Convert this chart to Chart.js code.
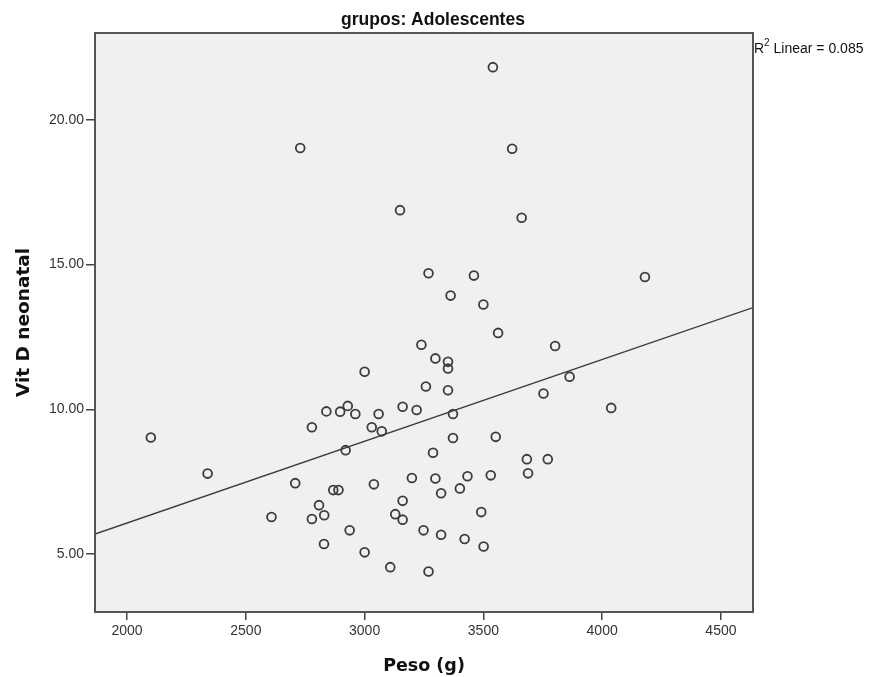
<!DOCTYPE html>
<html>
<head>
<meta charset="utf-8">
<script src="https://cdn.jsdelivr.net/npm/chart.js@4"></script>
<style>
  html, body { margin: 0; padding: 0; background: #fff; }
  #wrap { width: 880px; height: 677px; }
</style>
</head>
<body>
<div id="wrap"><canvas id="scatter" width="880" height="677"></canvas></div>
<script>
// ---------- Data ----------
const pesoG = [
    2729, 3149, 3269, 3540, 3621, 3661, 3460, 3362, 3500, 3562,
    4180, 3802, 3351, 3351, 3863, 3351, 3753, 3372, 4038, 3372,
    3552, 3683, 3771, 3688, 3433, 3531, 3401, 3322, 3491, 3322,
    3421, 3501, 3000, 3239, 3298, 3258, 2100, 2339, 2778, 2839,
    2897, 2929, 2961, 3059, 3160, 3219, 3030, 3072, 2920, 3288,
    2708, 2868, 2890, 3039, 3199, 3298, 3160, 2808, 2830, 2778,
    2608, 3129, 3160, 2937, 3248, 2829, 3000, 3108, 3269
];
const vitD = [
    19.03, 16.88, 14.70, 21.82, 19.00, 16.62, 14.62, 13.93, 13.62, 12.64,
    14.57, 12.19, 11.64, 11.41, 11.13, 10.66, 10.55, 9.84, 10.05, 9.01,
    9.05, 8.28, 8.28, 7.79, 7.69, 7.72, 7.27, 7.10, 6.45, 5.67,
    5.52, 5.26, 11.30, 12.23, 11.76, 10.79, 9.03, 7.78, 9.38, 9.93,
    9.92, 10.12, 9.84, 9.84, 10.09, 9.98, 9.38, 9.24, 8.59, 8.50,
    7.45, 7.21, 7.21, 7.41, 7.63, 7.61, 6.84, 6.69, 6.34, 6.21,
    6.28, 6.38, 6.19, 5.82, 5.82, 5.35, 5.06, 4.55, 4.40
];
const xTicks = [2000, 2500, 3000, 3500, 4000, 4500];
const yTicks = [5, 10, 15, 20];
const xRange = [1865, 4635];
const yRange = [3, 23];
const titleText = 'grupos: Adolescentes';
const r2Text = '0.085';

// ---------- Ajuste lineal (mínimos cuadrados) ----------
const n = pesoG.length;
const mx = pesoG.reduce((a, b) => a + b, 0) / n;
const my = vitD.reduce((a, b) => a + b, 0) / n;
let sxy = 0, sxx = 0;
for (let i = 0; i < n; i++) {
    sxy += (pesoG[i] - mx) * (vitD[i] - my);
    sxx += (pesoG[i] - mx) ** 2;
}
const slope = sxy / sxx;
const intercept = my - slope * mx;
const fitLine = xRange.map(x => ({ x, y: intercept + slope * x }));

// fondo gris del área, marco y textos extra
const framePlugin = {
    id: 'frame',
    beforeDraw(chart) {
        const { ctx, chartArea: a } = chart;
        ctx.save();
        ctx.fillStyle = '#f0f0f0';
        ctx.fillRect(a.left, a.top, a.right - a.left, a.bottom - a.top);
        ctx.restore();
    },
    afterDraw(chart) {
        const { ctx, chartArea: a } = chart;
        ctx.save();
        ctx.strokeStyle = '#555';
        ctx.lineWidth = 2;
        ctx.strokeRect(a.left, a.top, a.right - a.left, a.bottom - a.top);

        ctx.fillStyle = '#111';
        ctx.font = 'bold 17.5px "Liberation Sans", Arial, sans-serif';
        ctx.textAlign = 'center';
        ctx.textBaseline = 'middle';
        ctx.fillText(titleText, 433, 20);

        // R² Linear = 0.085
        ctx.textAlign = 'left';
        ctx.font = '14px "Liberation Sans", Arial, sans-serif';
        let x = a.right + 1;
        ctx.fillText('R', x, 49);
        x += ctx.measureText('R').width;
        ctx.font = '10px "Liberation Sans", Arial, sans-serif';
        ctx.fillText('2', x, 43);
        x += ctx.measureText('2').width;
        ctx.font = '14px "Liberation Sans", Arial, sans-serif';
        ctx.fillText(' Linear = ' + r2Text, x, 49);
        ctx.restore();
    }
};

const tickFont = { family: '"Liberation Sans", Arial, sans-serif', size: 14 };
const axisTitleFont = { family: '"DejaVu Sans", Verdana, sans-serif', weight: 'bold' };

new Chart(document.getElementById('scatter').getContext('2d'), {
    type: 'scatter',
    data: {
        datasets: [
            {
                label: 'Vit D neonatal',
                data: pesoG.map((x, i) => ({ x, y: vitD[i] })),
                pointStyle: 'circle',
                pointRadius: 4.4,
                borderWidth: 1.8,
                borderColor: '#3c3c3c',
                backgroundColor: 'rgba(0,0,0,0)',
            },
            {
                type: 'line',
                label: 'Linear',
                data: fitLine,
                borderColor: '#3a3a3a',
                borderWidth: 1.4,
                pointRadius: 0,
                fill: false,
            },
        ],
    },
    options: {
        responsive: false,
        animation: false,
        layout: { padding: { top: 33, right: 127, left: 0, bottom: 0 } },
        plugins: {
            legend: { display: false },
            tooltip: { enabled: false },
        },
        scales: {
            x: {
                type: 'linear',
                min: xRange[0],
                max: xRange[1],
                afterBuildTicks: s => { s.ticks = xTicks.map(v => ({ value: v })); },
                afterFit: s => { s.height = 65; },
                grid: { drawOnChartArea: false, drawTicks: true, tickLength: 8, color: '#444', lineWidth: 1.5 },
                border: { display: false },
                ticks: { font: tickFont, color: '#333', padding: 3, maxRotation: 0, callback: v => String(v) },
                title: { display: true, text: 'Peso (g)', color: '#111', font: { ...axisTitleFont, size: 17.5 }, padding: { bottom: 0 } },
            },
            y: {
                type: 'linear',
                min: yRange[0],
                max: yRange[1],
                afterBuildTicks: s => { s.ticks = yTicks.map(v => ({ value: v })); },
                afterFit: s => { s.width = 95; },
                grid: { drawOnChartArea: false, drawTicks: true, tickLength: 9, color: '#444', lineWidth: 1.5 },
                border: { display: false },
                ticks: { font: tickFont, color: '#333', padding: 2, callback: v => Number(v).toFixed(2) },
                title: { display: true, text: 'Vit D neonatal', color: '#111', font: { ...axisTitleFont, size: 18.5 }, padding: { top: 13 } },
            },
        },
    },
    plugins: [framePlugin],
});
</script>
</body>
</html>
